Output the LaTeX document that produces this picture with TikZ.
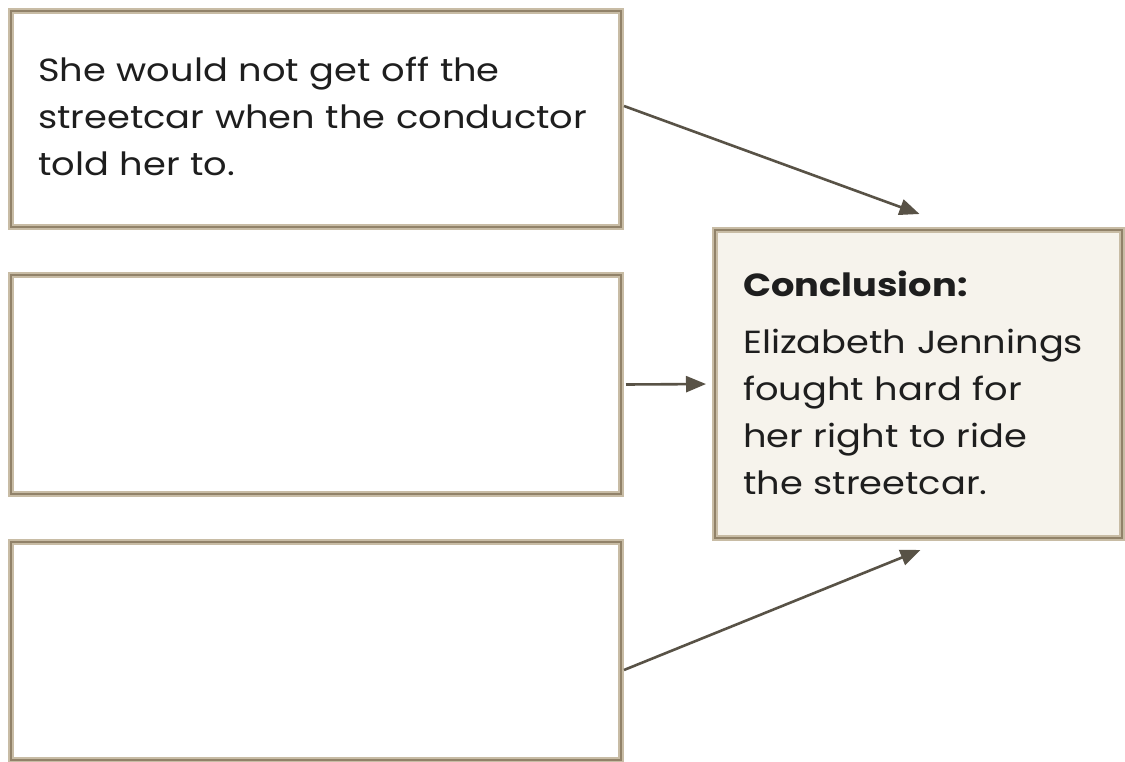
\documentclass[tikz,border=0pt]{standalone}
\usepackage{fontspec}
\setmainfont{Poppins}[FakeStretch=1.15]
\usetikzlibrary{arrows.meta,calc}
\definecolor{edgeL}{RGB}{200,188,165}
\definecolor{edgeD}{RGB}{145,130,105}
\definecolor{concfill}{RGB}{246,243,236}
\definecolor{arrowc}{RGB}{88,82,70}
\definecolor{inkc}{RGB}{30,30,30}
\tikzset{
  panel/.style={rectangle, anchor=north west, inner sep=0pt, fill=white,
    draw=edgeL, line width=6pt,
    postaction={draw=edgeD, line width=1.8pt}},
  concpanel/.style={panel, fill=concfill},
  txt/.style={anchor=base west, inner sep=0pt, align=left, text=inkc,
    font=\fontsize{32}{47}\selectfont},
  conn/.style={draw=arrowc, line width=2.6pt,
    -{Triangle[length=20pt,width=16pt]}}
}
\begin{document}
\begin{tikzpicture}[x=1pt,y=-1pt]
\useasboundingbox (0,0) rectangle (1125,762);
\fill[white] (0,0) rectangle (1125,762);
\node[panel, minimum width=610pt, minimum height=216pt] (b1) at (8,8) {};
\node[panel, minimum width=610pt, minimum height=219pt] (b2) at (8,272) {};
\node[panel, minimum width=610pt, minimum height=218pt] (b3) at (8,539) {};
\node[concpanel, minimum width=407pt, minimum height=308pt] (c) at (712,227) {};
\node[txt, text width=575pt] (t1) at (38,82) {She would not get off the\\streetcar when the conductor\\told her to.};
\node[txt, text width=370pt, font=\bfseries\fontsize{32}{47}\selectfont] (th) at (743,297) {Conclusion:};
\node[txt, text width=370pt] (t2) at (743,353) {Elizabeth Jennings\\fought hard for\\her right to ride\\the streetcar.};
\draw[conn] ([yshift=13pt]b1.east) -- ([yshift=13pt,xshift=1pt]c.north);
\draw[conn, shorten >=6pt] ([xshift=2pt]b2.east) -- (c.west);
\draw[conn] ([yshift=-19pt]b3.east) -- ([yshift=-9pt,xshift=2pt]c.south);
\end{tikzpicture}
\end{document}
